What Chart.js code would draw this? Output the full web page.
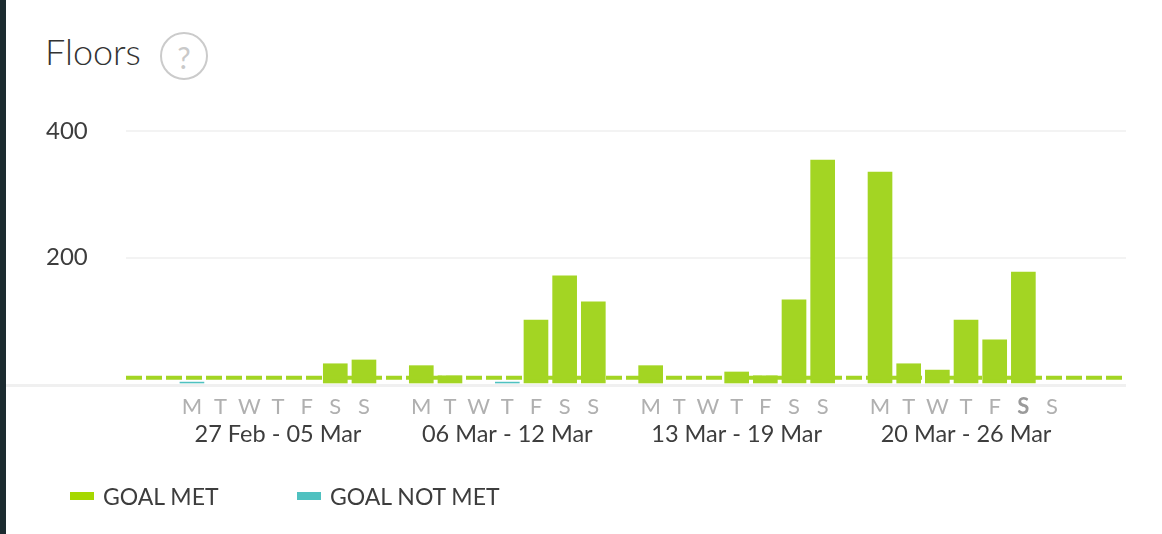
<!DOCTYPE html>
<html>
<head>
<meta charset="utf-8">
<title>Floors</title>
<script src="https://cdn.jsdelivr.net/npm/chart.js@4"></script>
<style>
  html, body { margin: 0; padding: 0; background: #fff; }
  body { width: 1162px; height: 534px; position: relative; overflow: hidden; font-family: Lato, sans-serif; color: #3d3d3d; }
  #strip { position: absolute; left: 0; top: 0; width: 6px; height: 534px; background: #1c2b30; }
  #title { position: absolute; left: 45px; top: 30px; font-size: 36px; font-weight: 300; line-height: 42px; color: #333; }
  #help { position: absolute; left: 160px; top: 32px; width: 44px; height: 44px; border: 2px solid #cbcbcb; border-radius: 50%; text-align: center; font-size: 30px; line-height: 46px; font-weight: 400; color: #c9c9c9; }
  #salesChart { position: absolute; left: 0; top: 0; }
  #legend { position: absolute; left: 70px; top: 482px; font-size: 23px; line-height: 28px; }
  #legend span { position: absolute; top: 0; white-space: nowrap; }
  #legend i { position: absolute; top: 10px; width: 24px; height: 8px; }
</style>
</head>
<body>
<div id="strip"></div>
<div id="title">Floors</div>
<div id="help">?</div>
<canvas id="salesChart" width="1162" height="534"></canvas>
<div id="legend"></div>
<script>
// Data: one slot per day, empty slot between weeks
const dayLabels = ['M','T','W','T','F','S','S','', 'M','T','W','T','F','S','S','', 'M','T','W','T','F','S','S','', 'M','T','W','T','F','S','S'];
const goalMet = [null,null,null,null,null,32,38,null, 29,13,null,null,101,171,130,null, 29,null,null,19,13,133,354,null, 335,32,22,101,70,177,null];
const goalNotMet = [3,null,null,null,null,null,null,null, null,null,null,3,null,null,null,null, null,null,null,null,null,null,null,null, null,null,null,null,null,null,null];
const weekLabels = ['27 Feb - 05 Mar', '06 Mar - 12 Mar', '13 Mar - 19 Mar', '20 Mar - 26 Mar'];
const weekSlots = [3, 11, 19, 27];
const yTicks = [0, 200, 400];
const goalValue = 10;
const seriesNames = ['GOAL MET', 'GOAL NOT MET'];

const green = '#a3d523';
const legendGreen = '#a6d800';
const teal = '#4fc1c0';
const xMin = -2.3;
const xMax = 32.58;

const toPoints = (values) => values.map((v, i) => ({ x: i, y: v }));

// Grey base line runs further left than the plot area
const baseLine = {
  id: 'baseLine',
  beforeDatasetsDraw(chart) {
    const c = chart.ctx;
    const y = chart.scales.y.getPixelForValue(0);
    c.save();
    c.fillStyle = '#f0f0f0';
    c.fillRect(6, y, chart.chartArea.right - 6, 3);
    c.restore();
  }
};

const ctx = document.getElementById('salesChart').getContext('2d');
new Chart(ctx, {
  type: 'bar',
  data: {
    datasets: [
      {
        type: 'line',
        label: 'Goal',
        data: [{ x: xMin, y: goalValue }, { x: 32.44, y: goalValue }],
        borderColor: green,
        borderWidth: 4,
        borderDash: [16, 4],
        pointRadius: 0,
        order: 0
      },
      { label: seriesNames[0], data: toPoints(goalMet), backgroundColor: green, barThickness: 24, grouped: false, order: 1 },
      { label: seriesNames[1], data: toPoints(goalNotMet), backgroundColor: teal, barThickness: 24, grouped: false, order: 1 }
    ]
  },
  options: {
    responsive: false,
    animation: false,
    layout: { padding: { left: 46, right: 36, top: 131, bottom: 84 } },
    plugins: { legend: { display: false }, tooltip: { enabled: false } },
    scales: {
      x: {
        type: 'linear',
        position: 'bottom',
        offset: false,
        min: xMin,
        max: xMax,
        grid: { display: false, drawTicks: false },
        border: { display: false },
        afterBuildTicks: (s) => { s.ticks = dayLabels.map((_, i) => ({ value: i })); },
        afterFit: (s) => { s.height = 36; },
        ticks: {
          autoSkip: false,
          maxRotation: 0,
          padding: 10,
          color: (c) => (c.index === 29 ? '#9a9a9a' : '#b0b0b0'),
          font: (c) => ({ family: 'Lato', size: 22, weight: c.index === 29 ? '700' : '400' }),
          callback: (v, i) => dayLabels[i]
        }
      },
      x2: {
        type: 'linear',
        position: 'bottom',
        offset: false,
        min: xMin,
        max: xMax,
        grid: { display: false, drawTicks: false },
        border: { display: false },
        afterBuildTicks: (s) => { s.ticks = weekSlots.map((v) => ({ value: v })); },
        afterFit: (s) => { s.height = 30; },
        ticks: {
          autoSkip: false,
          maxRotation: 0,
          padding: 0,
          color: '#3d3d3d',
          font: { family: 'Lato', size: 23.5 },
          callback: (v, i) => weekLabels[i]
        }
      },
      y: {
        min: 0,
        max: 400,
        afterBuildTicks: (s) => { s.ticks = yTicks.map((v) => ({ value: v })); },
        afterFit: (s) => { s.width = 80; },
        border: { display: false },
        grid: {
          drawTicks: false,
          lineWidth: 2,
          color: (c) => (c.tick.value === 0 ? 'rgba(0,0,0,0)' : '#f3f3f3')
        },
        ticks: {
          crossAlign: 'far',
          padding: 0,
          color: '#3d3d3d',
          font: { family: 'Lato', size: 24 },
          callback: (v) => (v === 0 ? '' : String(v))
        }
      }
    }
  },
  plugins: [baseLine]
});

// Legend sits under the chart with wide spacing
const legend = document.getElementById('legend');
[[seriesNames[0], legendGreen, 0], [seriesNames[1], teal, 227]].forEach(([name, colour, left]) => {
  const box = document.createElement('i');
  box.style.left = left + 'px';
  box.style.background = colour;
  const text = document.createElement('span');
  text.style.left = (left + 33) + 'px';
  text.textContent = name;
  legend.append(box, text);
});
</script>
</body>
</html>
